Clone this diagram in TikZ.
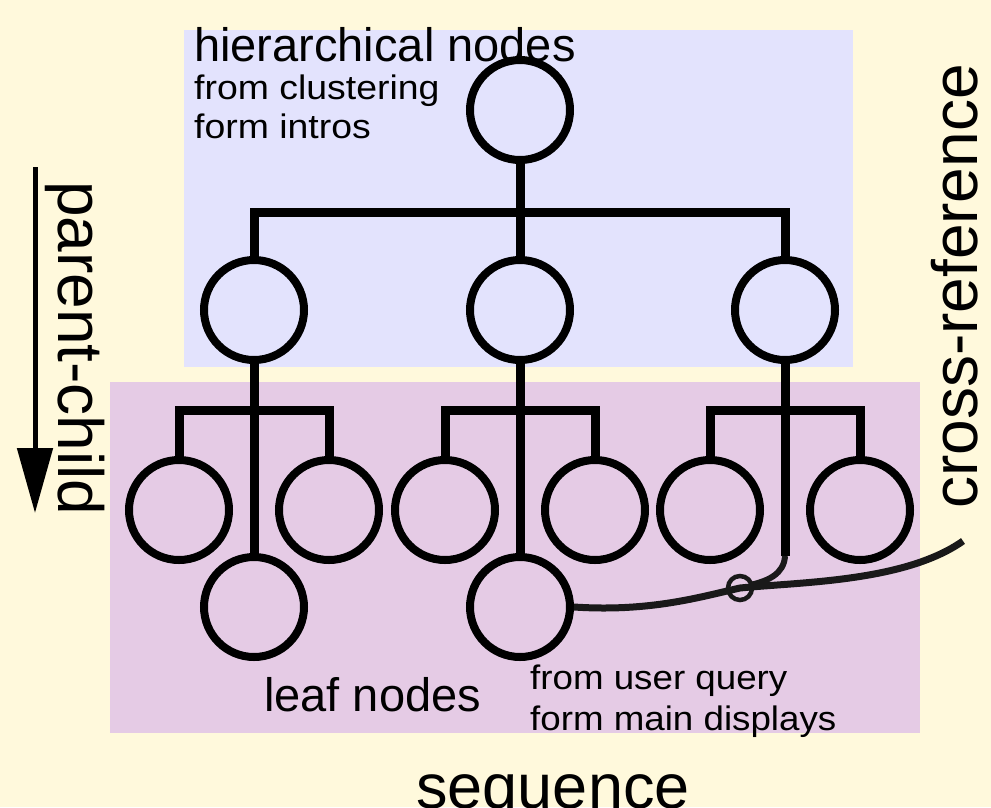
\documentclass[tikz,border=0pt]{standalone}
\usepackage{fontspec}
\setmainfont{Liberation Sans}
\usetikzlibrary{arrows.meta}
\definecolor{bgyellow}{RGB}{255,249,220}
\definecolor{bluebox}{RGB}{227,227,253}
\definecolor{purplebox}{RGB}{229,203,229}
\begin{document}
\begin{tikzpicture}[x=1pt,y=-1pt,
  treenode/.style={circle,draw=black,line width=8pt,minimum size=100pt,inner sep=0pt},
  treeline/.style={line width=9pt,draw=black},
  bigtext/.style={font=\fontsize{47}{56}\selectfont,inner sep=0pt},
  smalltext/.style={font=\fontsize{34}{40}\selectfont,inner sep=0pt},
  sidetext/.style={font=\fontsize{64}{76}\selectfont,inner sep=0pt},
  xref/.style={line width=7pt,draw=black!90}]
\useasboundingbox (0,0) rectangle (991,807);
\fill[bgyellow] (0,0) rectangle (991,807);
\fill[bluebox] (184,30) rectangle (853,367);
\fill[purplebox] (110,382) rectangle (920,733);

% nodes
\node[treenode] (r) at (520,110) {};
\node[treenode] (m1) at (254,310) {};
\node[treenode] (m2) at (520,310) {};
\node[treenode] (m3) at (785,310) {};
\node[treenode] (a1) at (179,510) {};
\node[treenode] (a2) at (329,510) {};
\node[treenode] (a3) at (254,607) {};
\node[treenode] (b1) at (445,510) {};
\node[treenode] (b2) at (595,510) {};
\node[treenode] (b3) at (520,607) {};
\node[treenode] (c1) at (710,510) {};
\node[treenode] (c2) at (860,510) {};

\coordinate (bar0) at (520,212);
\coordinate (bara) at (254,410);
\coordinate (barb) at (520,410);
\coordinate (barc) at (785,410);
\coordinate (cend) at (785,556);
\coordinate (loop) at (740,588);
\coordinate (xrefend) at (963,541);

% tree connectors
\draw[treeline] (r) -- (m2);
\draw[treeline] (m1.north) |- (bar0) -| (m3.north);
\draw[treeline] (m1) -- (a3);
\draw[treeline] (a1.north) |- (bara) -| (a2.north);
\draw[treeline] (m2) -- (b3);
\draw[treeline] (b1.north) |- (barb) -| (b2.north);
\draw[treeline] (m3.south) -- (cend);
\draw[treeline] (c1.north) |- (barc) -| (c2.north);

% cross-reference
\draw[xref] (b3.east) .. controls (650,612) and (700,597) .. (loop)
  .. controls (800,582) and (905,582) .. (xrefend);
\draw[xref,line width=6pt] (cend) .. controls (784,574) and (768,581) .. (750,585);
\draw[line width=4.5pt,draw=black!90] (loop) circle (12);

% parent-child arrow
\coordinate (pcstart) at (35,167);
\coordinate (pcend) at (35,513);
\draw[line width=5pt,-{Triangle[width=35pt,length=65pt]}] (pcstart) -- (pcend);

% texts
\node[bigtext,anchor=base west] (t1) at (194,61) {hierarchical nodes};
\node[smalltext,anchor=base west] (t2) at (194,99) {\scalebox{1.1}[1]{from clustering}};
\node[smalltext,anchor=base west] (t3) at (194,138) {\scalebox{1.1}[1]{form intros}};
\node[sidetext,anchor=base west,rotate=-90] (t4) at (58,181) {parent-child};
\node[sidetext,anchor=base west,rotate=90] (t5) at (977,509) {cross-reference};
\node[bigtext,anchor=base west] (t6) at (264,711) {leaf nodes};
\node[smalltext,anchor=base west] (t7) at (530,689) {\scalebox{1.08}[1]{from user query}};
\node[smalltext,anchor=base west] (t8) at (530,730) {\scalebox{1.08}[1]{form main displays}};
\node[font=\fontsize{63}{75}\selectfont,inner sep=0pt,anchor=base] (t9) at (553,808) {sequence};
\end{tikzpicture}
\end{document}
